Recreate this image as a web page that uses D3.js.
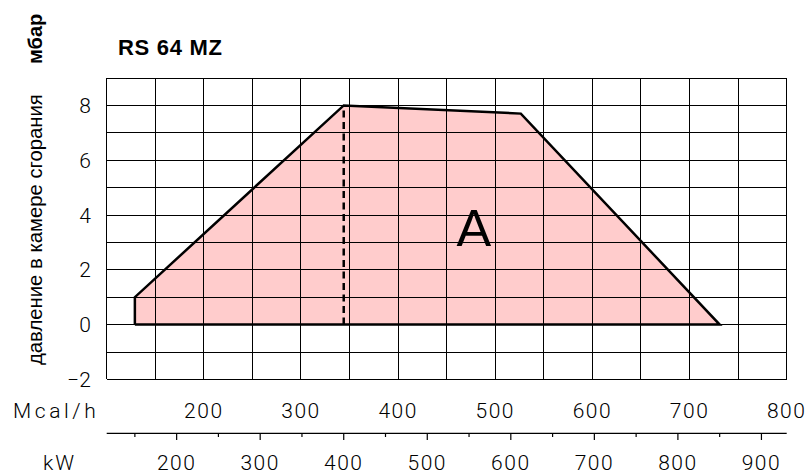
<!DOCTYPE html>
<html>
<head>
<meta charset="utf-8">
<script src="https://cdn.jsdelivr.net/npm/d3@7"></script>
<style>
  html, body { margin: 0; padding: 0; background: #fff; }
  svg { display: block; }
</style>
</head>
<body>
<svg id="chart" width="808" height="474"></svg>
<script>
// ---- data ----
const title = "RS 64 MZ";
const yTitle = "давление в камере сгорания";
const yUnit = "мбар";
const envelopeKW = [150, 150, 400, 612, 850, 150];
const envelopeMbar = [0, 1, 8, 7.7, 0, 0];
const dashedKW = [400, 400];
const dashedMbar = [0, 8];
const mcalTicks = [200, 300, 400, 500, 600, 700, 800];
const kwMajorTicks = [200, 300, 400, 500, 600, 700, 800, 900];
const kwMinorTicks = [150, 250, 350, 450, 550, 650, 750, 850];
const yTicks = [-2, 0, 2, 4, 6, 8];
const areaLabel = "A";
const KW_TO_MCAL = 0.86;

// ---- layout ----
const svg = d3.select("#chart");
const x = d3.scaleLinear().domain([100, 800]).range([106.7, 786.7]);
const y = d3.scaleLinear().domain([-2, 9]).range([379.4, 78]);
const xk = d3.scaleLinear().domain([0, 1000]).range([x(0), x(1000 * KW_TO_MCAL)]);

const tickFont = "Roboto, 'DejaVu Sans', sans-serif";

// envelope fill
const pts = envelopeKW.map((k, i) => [xk(k), y(envelopeMbar[i])]);
svg.append("path")
  .attr("d", d3.line()(pts))
  .attr("fill", "#ffcccc")
  .attr("stroke", "none");

// grid
const g = svg.append("g").attr("stroke", "#000").attr("stroke-width", 1).attr("shape-rendering", "crispEdges");
g.selectAll("line.v").data(d3.range(100, 801, 50)).enter().append("line")
  .attr("x1", d => x(d)).attr("x2", d => x(d))
  .attr("y1", y(9)).attr("y2", y(-2));
g.selectAll("line.h").data(d3.range(-2, 10, 1)).enter().append("line")
  .attr("x1", x(100)).attr("x2", x(800))
  .attr("y1", d => y(d)).attr("y2", d => y(d));

// envelope outline
svg.append("path")
  .attr("d", d3.line()(pts))
  .attr("fill", "none")
  .attr("stroke", "#000")
  .attr("stroke-width", 2.5)
  .attr("stroke-linejoin", "miter");

// dashed line
svg.append("path")
  .attr("d", d3.line()(dashedKW.map((k, i) => [xk(k), y(dashedMbar[i])])))
  .attr("fill", "none")
  .attr("stroke", "#000")
  .attr("stroke-width", 2.5)
  .attr("stroke-dasharray", "7,4.5");

// area label
svg.append("text")
  .attr("x", x(478)).attr("y", y(2.88))
  .attr("text-anchor", "middle")
  .attr("font-family", "'Liberation Sans', Arial, sans-serif")
  .attr("font-size", 52)
  .text(areaLabel);

// y tick labels
svg.append("g").selectAll("text").data(yTicks).enter().append("text")
  .attr("x", 91).attr("y", d => y(d))
  .attr("dy", "0.36em")
  .attr("text-anchor", "end")
  .attr("font-family", tickFont)
  .attr("font-weight", 300)
  .attr("font-size", 21)
  .text(d => d < 0 ? "\u2212" + Math.abs(d) : d);

// Mcal/h labels
svg.append("g").selectAll("text").data(mcalTicks).enter().append("text")
  .attr("x", d => x(d)).attr("y", 418)
  .attr("text-anchor", "middle")
  .attr("font-family", tickFont)
  .attr("font-weight", 300)
  .attr("font-size", 21)
  .attr("letter-spacing", 1.5)
  .text(d => d);
svg.append("text")
  .attr("x", 13).attr("y", 418)
  .attr("font-family", tickFont)
  .attr("font-weight", 300)
  .attr("font-size", 21)
  .attr("letter-spacing", 3.6)
  .text("Mcal/h");

// kW axis
const ka = svg.append("g").attr("stroke", "#000").attr("stroke-width", 1.2);
ka.append("line").attr("x1", x(100)).attr("x2", x(800)).attr("y1", 433.3).attr("y2", 433.3);
ka.selectAll("line.M").data(kwMajorTicks).enter().append("line")
  .attr("x1", d => xk(d)).attr("x2", d => xk(d)).attr("y1", 433.3).attr("y2", 440);
ka.selectAll("line.m").data(kwMinorTicks).enter().append("line")
  .attr("x1", d => xk(d)).attr("x2", d => xk(d)).attr("y1", 433.3).attr("y2", 437);
svg.append("g").selectAll("text").data(kwMajorTicks).enter().append("text")
  .attr("x", d => xk(d)).attr("y", 470)
  .attr("text-anchor", "middle")
  .attr("font-family", tickFont)
  .attr("font-weight", 300)
  .attr("font-size", 21)
  .attr("letter-spacing", 1.5)
  .text(d => d);
svg.append("text")
  .attr("x", 43).attr("y", 470)
  .attr("font-family", tickFont)
  .attr("font-weight", 300)
  .attr("font-size", 21)
  .attr("letter-spacing", 2)
  .text("kW");

// title
svg.append("text")
  .attr("x", 118).attr("y", 55)
  .attr("font-family", "'Liberation Sans', Arial, sans-serif")
  .attr("font-weight", "bold")
  .attr("font-size", 22)
  .attr("letter-spacing", 0.7)
  .text(title);

// y axis titles
svg.append("text")
  .attr("transform", "translate(42,365) rotate(-90)")
  .attr("font-family", "'Liberation Sans', Arial, sans-serif")
  .attr("font-size", 20.3)
  .text(yTitle);
svg.append("text")
  .attr("transform", "translate(42,64) rotate(-90)")
  .attr("font-family", "'Liberation Sans', Arial, sans-serif")
  .attr("font-weight", "bold")
  .attr("font-size", 20)
  .text(yUnit);
</script>
</body>
</html>
